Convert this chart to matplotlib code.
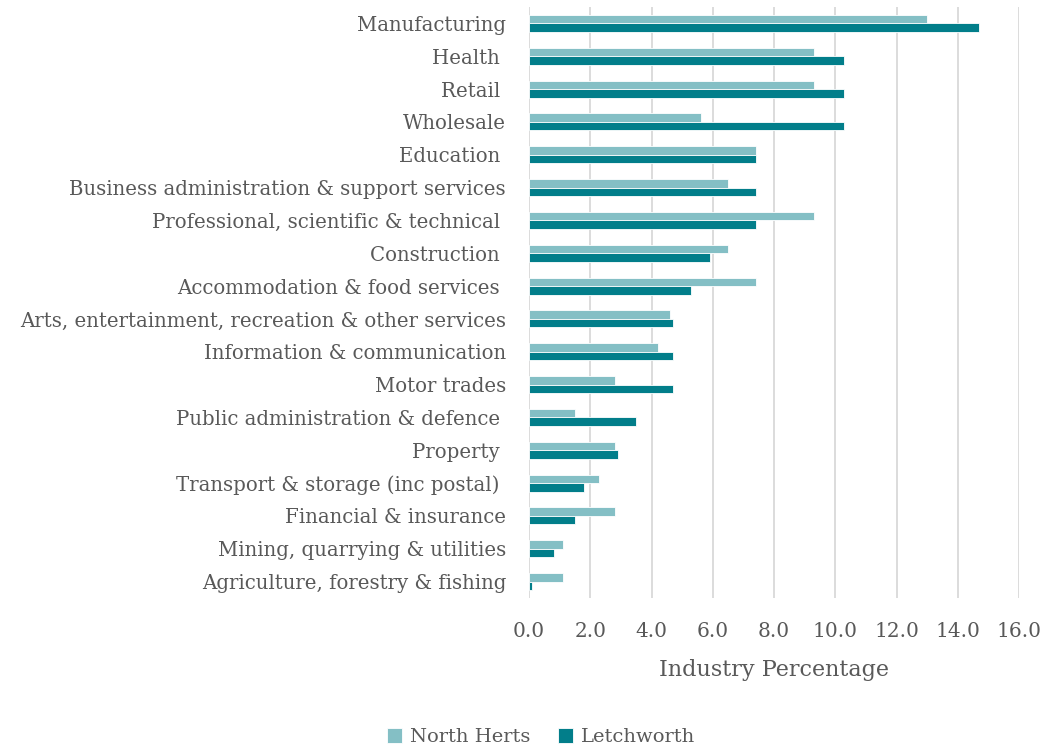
import matplotlib.pyplot as plt
import numpy as np

# Industry shares (%), top to bottom as shown
categories = [
    "Manufacturing", "Health ", "Retail ", "Wholesale", "Education ",
    "Business administration & support services",
    "Professional, scientific & technical ", "Construction ",
    "Accommodation & food services ",
    "Arts, entertainment, recreation & other services",
    "Information & communication", "Motor trades",
    "Public administration & defence ", "Property ",
    "Transport & storage (inc postal) ", "Financial & insurance",
    "Mining, quarrying & utilities", "Agriculture, forestry & fishing",
]
north_herts = [13.0, 9.3, 9.3, 5.6, 7.4, 6.5, 9.3, 6.5, 7.4, 4.6, 4.2, 2.8,
               1.5, 2.8, 2.3, 2.8, 1.1, 1.1]
letchworth = [14.7, 10.3, 10.3, 10.3, 7.4, 7.4, 7.4, 5.9, 5.3, 4.7, 4.7, 4.7,
              3.5, 2.9, 1.8, 1.5, 0.8, 0.1]
xticks = np.arange(0, 17, 2)

text_col = "#595959"
plt.rcParams['font.family'] = ['DejaVu Serif']

fig = plt.figure(figsize=(10.52, 7.49), dpi=100)
ax = fig.add_axes([529 / 1052, 1 - 598 / 749, (1019 - 529) / 1052, (598 - 7) / 749])

y = np.arange(len(categories))
h = 0.26
ax.barh(y - h / 2, north_herts, height=h, color="#84BFC5", edgecolor="white",
        linewidth=0.6, label="North Herts", zorder=3)
ax.barh(y + h / 2, letchworth, height=h, color="#027E8A", edgecolor="white",
        linewidth=0.6, label="Letchworth", zorder=3)

ax.set_ylim(len(categories) - 0.5, -0.5)
ax.set_xlim(0, 16)
ax.set_yticks(y)
ax.set_yticklabels(categories, fontsize=14.2, color=text_col)
ax.set_xticks(xticks)
ax.set_xticklabels([f"{v:.1f}" for v in xticks], fontsize=14.5, color=text_col)
ax.tick_params(axis='both', length=0)
ax.tick_params(axis='x', pad=17)
ax.tick_params(axis='y', pad=16.5)
ax.grid(axis='x', color="#D9D9D9", linewidth=1.3, zorder=0)
for s in ax.spines.values():
    s.set_visible(False)

ax.set_xlabel("Industry Percentage", fontsize=16, color=text_col, labelpad=13)

fig.legend(loc='center', bbox_to_anchor=(541 / 1052, 1 - 737 / 749), ncol=2,
           frameon=False, fontsize=14, handlelength=0.8, handleheight=0.8,
           columnspacing=1.4, handletextpad=0.4, labelcolor=text_col)

fig.savefig("out.png", dpi=100)
